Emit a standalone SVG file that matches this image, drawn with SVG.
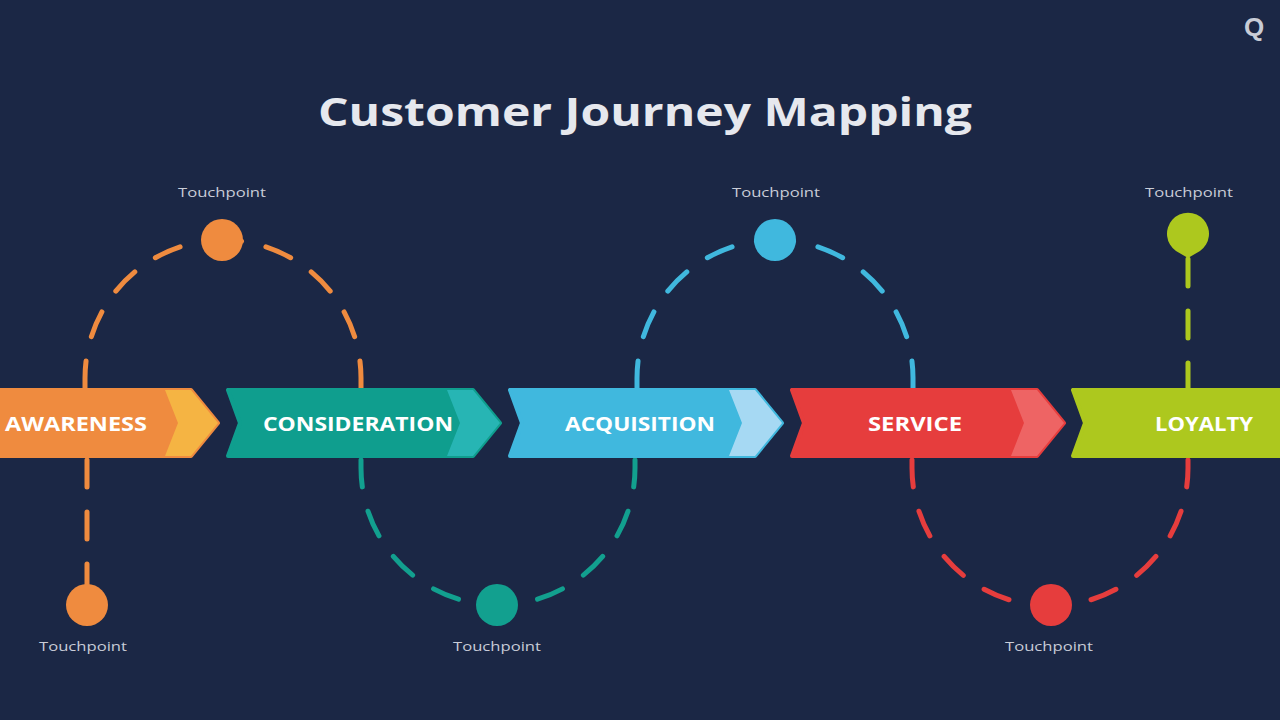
<svg xmlns="http://www.w3.org/2000/svg" xmlns:xlink="http://www.w3.org/1999/xlink" width="1280" height="720" viewBox="0 0 1280 720">
<style>
.title{font-family:"Open Sans","Liberation Sans",sans-serif;font-weight:700;font-size:40px;fill:#e6e8ee}
.lbl{font-family:"Open Sans","Liberation Sans",sans-serif;font-weight:700;font-size:19px;fill:#ffffff;text-anchor:middle}
.tp{font-family:"Open Sans","Liberation Sans",sans-serif;font-size:12px;fill:#c9cdd8;text-anchor:middle}
.dash{fill:none;stroke-width:5;stroke-dasharray:27 25;stroke-linecap:round}
.body{stroke-width:4;stroke-linejoin:round}
</style>
<defs>
<path id="banner" d="M0,390 L245,390 L272,423 L245,456 L0,456 L12,423 Z"/>
<path id="band" d="M219,390 L245,390 L272,423 L245,456 L219,456 L232,423 Z"/>
</defs>
<rect width="1280" height="720" fill="#1b2745"/>
<text x="1244" y="36" font-family="Liberation Sans,sans-serif" font-weight="700" font-size="26" fill="#c8ccd6">Q</text>
<text class="title" x="318" y="126" textLength="654" lengthAdjust="spacingAndGlyphs">Customer Journey Mapping</text>

<g id="connectors">
<path class="dash" stroke="#ef8b3f" d="M85 388 V378 A138 138 0 0 1 223 240"/>
<path class="dash" stroke="#ef8b3f" d="M361 388 V378 A138 138 0 0 0 223 240"/>
<path class="dash" stroke="#ef8b3f" d="M87 460 V605"/>
<path class="dash" stroke="#12a08f" d="M361 460 V468 A137 137 0 0 0 498 605"/>
<path class="dash" stroke="#12a08f" d="M635 460 V468 A137 137 0 0 1 498 605"/>
<path class="dash" stroke="#40b8de" d="M637 388 V378 A138 138 0 0 1 775 240"/>
<path class="dash" stroke="#40b8de" d="M913 388 V378 A138 138 0 0 0 775 240"/>
<path class="dash" stroke="#e63d3d" d="M912 460 V468 A138 138 0 0 0 1050 606"/>
<path class="dash" stroke="#e63d3d" d="M1188 460 V468 A138 138 0 0 1 1050 606"/>
<path class="dash" stroke="#adc81e" d="M1188 390 V250"/>
</g>

<g id="awareness" transform="translate(-54,0)">
<use xlink:href="#banner" class="body" fill="#ef8b3f" stroke="#ef8b3f"/>
<use xlink:href="#band" fill="#f5b443"/>
<text class="lbl" x="130" y="431" textLength="142" lengthAdjust="spacingAndGlyphs">AWARENESS</text>
</g>
<g id="consideration" transform="translate(228,0)">
<use xlink:href="#banner" class="body" fill="#0f9e8e" stroke="#0f9e8e"/>
<use xlink:href="#band" fill="#27b5b4"/>
<text class="lbl" x="130" y="431" textLength="190" lengthAdjust="spacingAndGlyphs">CONSIDERATION</text>
</g>
<g id="acquisition" transform="translate(510,0)">
<use xlink:href="#banner" class="body" fill="#40b8de" stroke="#40b8de"/>
<use xlink:href="#band" fill="#a6d9f3"/>
<text class="lbl" x="130" y="431" textLength="150" lengthAdjust="spacingAndGlyphs">ACQUISITION</text>
</g>
<g id="service" transform="translate(792,0)">
<use xlink:href="#banner" class="body" fill="#e63d3d" stroke="#e63d3d"/>
<use xlink:href="#band" fill="#ee6464"/>
<text class="lbl" x="123" y="431" textLength="94" lengthAdjust="spacingAndGlyphs">SERVICE</text>
</g>
<g id="loyalty" transform="translate(1073,0)">
<use xlink:href="#banner" class="body" fill="#adc81e" stroke="#adc81e"/>
<text class="lbl" x="131" y="431" textLength="98" lengthAdjust="spacingAndGlyphs">LOYALTY</text>
</g>

<g id="tp-orange-top">
<circle cx="222" cy="240" r="21" fill="#ef8b3f"/>
<text class="tp" x="222" y="197" textLength="88" lengthAdjust="spacingAndGlyphs">Touchpoint</text>
</g>
<g id="tp-orange-bottom">
<circle cx="87" cy="605" r="21" fill="#ef8b3f"/>
<text class="tp" x="83" y="651" textLength="88" lengthAdjust="spacingAndGlyphs">Touchpoint</text>
</g>
<g id="tp-teal">
<circle cx="497" cy="605" r="21" fill="#12a08f"/>
<text class="tp" x="497" y="651" textLength="88" lengthAdjust="spacingAndGlyphs">Touchpoint</text>
</g>
<g id="tp-blue">
<circle cx="775" cy="240" r="21" fill="#40b8de"/>
<text class="tp" x="776" y="197" textLength="88" lengthAdjust="spacingAndGlyphs">Touchpoint</text>
</g>
<g id="tp-red">
<circle cx="1051" cy="605" r="21" fill="#e63d3d"/>
<text class="tp" x="1049" y="651" textLength="88" lengthAdjust="spacingAndGlyphs">Touchpoint</text>
</g>
<g id="tp-green">
<path d="M1188 258 L1176 251 A21 21 0 1 1 1200 251 Z" fill="#adc81e"/>
<text class="tp" x="1189" y="197" textLength="88" lengthAdjust="spacingAndGlyphs">Touchpoint</text>
</g>
</svg>
